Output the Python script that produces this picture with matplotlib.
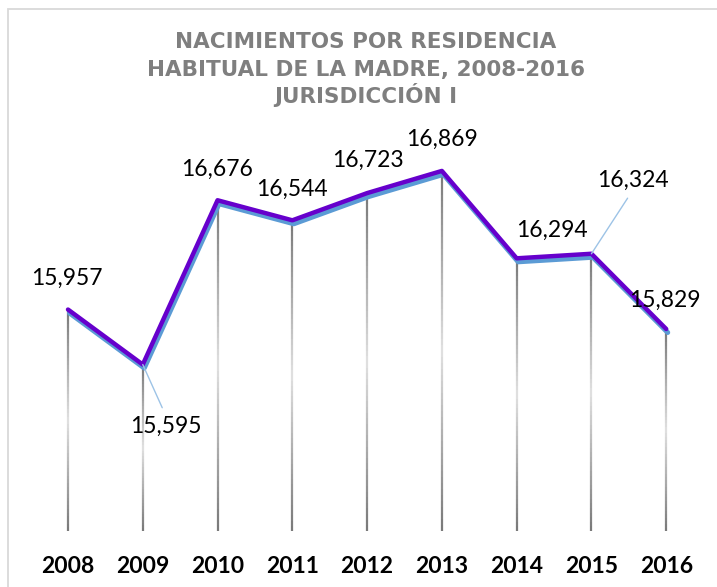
import numpy as np
import matplotlib
matplotlib.use("Agg")
from matplotlib import pyplot as plt
from matplotlib import transforms
from matplotlib.collections import LineCollection
from matplotlib.patches import Rectangle

# Data
years = ["2008", "2009", "2010", "2011", "2012", "2013", "2014", "2015", "2016"]
births = [15957, 15595, 16676, 16544, 16723, 16869, 16294, 16324, 15829]
value_labels = ["15,957", "15,595", "16,676", "16,544", "16,723", "16,869", "16,294", "16,324", "15,829"]

title_lines = ["NACIMIENTOS POR RESIDENCIA", "HABITUAL DE LA MADRE, 2008-2016", "JURISDICCIÓN I"]

# label offsets in pixels (dx, dy of baseline centre from the point)
label_offsets = [(-1, 25), (23, -68), (0, 24), (0, 24), (1, 26), (0, 25), (35, 21), (41, 67), (-1, 22)]
leaders = {1: (0.5, 1.0), 7: (0.5, 0.0)}

W, H = 717, 587
fig = plt.figure(figsize=(W / 100, H / 100), dpi=100)
fig.patch.set_facecolor("white")

# chart border (only the top/left edges are inside the picture)
fig.add_artist(Rectangle((8 / W, -0.2), 2, 1 - 9 / H + 0.2, transform=fig.transFigure,
                         fill=False, edgecolor="#D9D9D9", lw=1.3, clip_on=False))

ax = fig.add_axes([30.6 / W, 1 - 531 / H, 673 / W, (531 - 151) / H])
x = np.arange(len(years))
ax.set_xlim(-0.5, len(years) - 0.5)
ax.set_ylim(14500, 17000)
for s in ax.spines.values():
    s.set_visible(False)
ax.set_yticks([])
ax.set_xticks(x)
ax.set_xticklabels(years, fontfamily="Lato", fontweight="bold", fontsize=16.5)
ax.tick_params(axis="x", length=0, pad=18)

# drop lines with a gray -> light -> gray gradient
n = 60
segs, cols = [], []
dark = np.array([0.47, 0.47, 0.47])
light = np.array([0.88, 0.88, 0.88])
for xi, v in zip(x, births):
    ys = np.linspace(v, 14500, n + 1)
    for k in range(n):
        t = (k + 0.5) / n
        w = 1 - abs(2 * t - 1)
        segs.append([(xi, ys[k]), (xi, ys[k + 1])])
        cols.append(tuple(dark + (light - dark) * w))
ax.add_collection(LineCollection(segs, colors=cols, linewidths=1.6, zorder=1))

# shadow line + main line
shadow = transforms.offset_copy(ax.transData, fig=fig, x=1.5, y=-3.5, units="dots")
ax.plot(x, births, color="#5B9BD5", lw=3.6, transform=shadow, zorder=2,
        solid_capstyle="round", solid_joinstyle="round")
ax.plot(x, births, color="#6600CC", lw=3.2, zorder=3,
        solid_capstyle="round", solid_joinstyle="round")

for i, (xi, v) in enumerate(zip(x, births)):
    dx, dy = label_offsets[i]
    kw = {}
    if i in leaders:
        kw["arrowprops"] = dict(arrowstyle="-", color="#9DC3E6", lw=1.0,
                                shrinkA=4, shrinkB=0, relpos=leaders[i])
    ax.annotate(value_labels[i], xy=(xi, v), xytext=(dx, dy), textcoords="offset pixels",
                ha="center", va="baseline", fontfamily="Lato", fontsize=16.5,
                color="black", zorder=5, **kw)

for line, base in zip(title_lines, [48, 76, 103]):
    fig.text(366 / W, 1 - base / H, line, ha="center", va="baseline", fontfamily="DejaVu Sans",
             fontweight="bold", fontsize=15.5, color="#7F7F7F")

fig.savefig("out.png", dpi=100)
